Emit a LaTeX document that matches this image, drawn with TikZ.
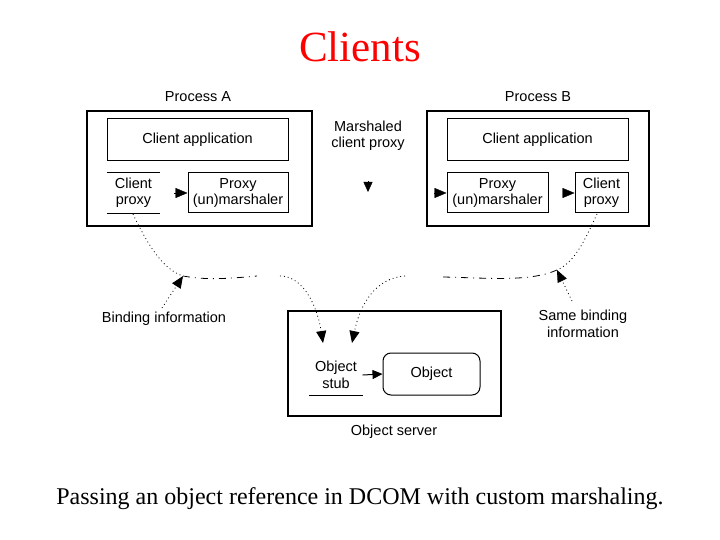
\documentclass[tikz,border=0pt]{standalone}
\usepackage{fontspec}
\setmainfont{Liberation Serif}
\newfontfamily\arialf{Liberation Sans}
\usetikzlibrary{arrows.meta}
\begin{document}
\begin{tikzpicture}[x=1pt,y=-1pt,
  lbl/.style={font=\arialf\fontsize{14.5}{16.5}\selectfont, align=center, inner sep=0pt},
  box/.style={lbl, draw, line width=1pt, minimum width=#1, minimum height=40pt},
  outerbox/.style={draw, line width=2pt, inner sep=0pt, anchor=center},
  tri/.style={-{Triangle[length=12pt,width=10pt]}},
  dotl/.style={line width=0.8pt, dash pattern=on 0.9pt off 3pt},
  dashl/.style={line width=0.8pt, dash pattern=on 7pt off 5pt on 1pt off 5pt}
]
\useasboundingbox (0,0) rectangle (720,540);
% title and caption
\node[font=\fontsize{43}{46}\selectfont, text=red, inner sep=0] (title) at (360,47) {Clients};
\node[font=\fontsize{24}{27}\selectfont, inner sep=0] (caption) at (360,499) {Passing an object reference in DCOM with custom marshaling.};
% Process A
\node[outerbox, minimum width=225pt, minimum height=115pt] (pA) at (199.5,168.5) {};
\node[lbl] (pAl) at (198,97) {Process A};
\node[box=181pt, minimum height=42pt] (caA) at (197.5,140) {Client application};
\node[lbl, minimum width=53pt, minimum height=40pt] (cpA) at (133.5,193) {Client\\proxy};
\draw[line width=1pt] (cpA.north west) -- (cpA.north east) (cpA.south west) -- (cpA.south east);
\node[box=100pt] (pmA) at (238,193) {Proxy\\(un)marshaler};
\draw[tri, shorten <=14pt] (cpA.east) -- (pmA.west);
% Process B
\node[outerbox, minimum width=222pt, minimum height=115pt] (pB) at (538,168.5) {};
\node[lbl] (pBl) at (538,97) {Process B};
\node[box=181pt, minimum height=42pt] (caB) at (537.5,140) {Client application};
\node[box=101pt] (pmB) at (497.5,193) {Proxy\\(un)marshaler};
\node[box=53pt] (cpB) at (601.5,193) {Client\\proxy};
\draw[tri, shorten <=8pt] (pB.west |- pmB.west) -- (pmB.west);
\draw[tri, shorten <=15pt] (pmB.east) -- (cpB.west);
% marshaled proxy
\node[lbl] (mcp) at (368,136) {Marshaled\\client proxy};
\coordinate (mtip) at (368,192);
\draw[-{Triangle[length=10pt,width=9pt]}, shorten <=30pt] (mcp.south) -- (mtip);
% Object server
\node[outerbox, minimum width=213pt, minimum height=105pt] (os) at (394.5,363.5) {};
\node[lbl] (osl) at (394,432) {Object server};
\node[lbl, minimum width=53pt, minimum height=40pt] (stub) at (336,375) {Object\\stub};
\draw[line width=1pt] (stub.south west) -- (stub.south east);
\node[lbl, draw, line width=1pt, rounded corners=8pt, minimum width=97pt, minimum height=42pt] (obj) at (431.5,374) {Object};
\draw[-{Triangle[length=10pt,width=9pt]}, line width=1pt] (stub.east) -- (obj.west);
% binding paths
\coordinate (sA) at (133,214);
\coordinate (jA) at (183,276);
\coordinate (gA1) at (257,276);
\coordinate (gA2) at (280,276);
\coordinate (tA) at (323,343);
\draw[dotl] (sA) .. controls (150,250) and (165,270) .. (jA);
\draw[dashl] (jA) .. controls (205,280) and (225,279) .. (gA1);
\draw[dotl, tri] (gA2) .. controls (305,276) and (318,310) .. (tA);
\coordinate (sB) at (597,214);
\coordinate (jB) at (557,270);
\coordinate (gB1) at (443,277);
\coordinate (gB2) at (405,276);
\coordinate (tB) at (352,343);
\draw[dotl] (sB) .. controls (585,240) and (575,262) .. (jB);
\draw[dashl] (jB) .. controls (530,282) and (490,278) .. (gB1);
\draw[dotl, tri] (gB2) .. controls (375,278) and (360,305) .. (tB);
% binding labels
\node[lbl] (bi) at (164,319) {Binding information};
\draw[dotl, tri] (162,308) -- (jA);
\node[lbl] (sbi) at (583,324) {Same binding\\information};
\draw[dotl, tri] (572,301) -- (jB);
\end{tikzpicture}
\end{document}
